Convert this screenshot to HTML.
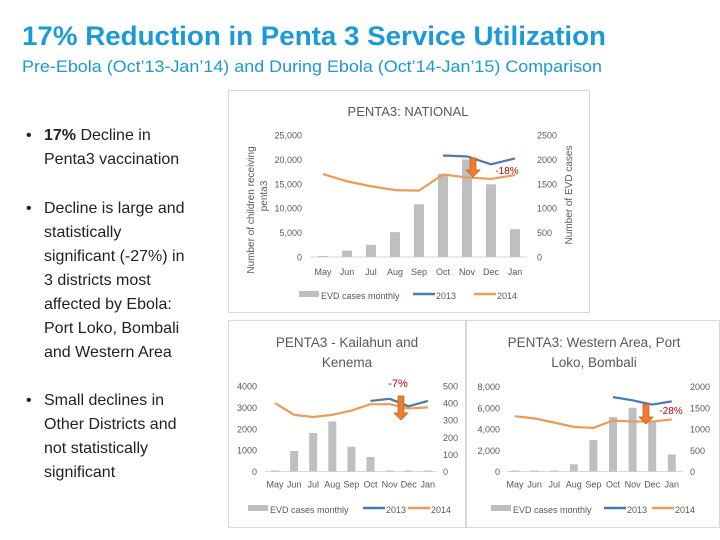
<!DOCTYPE html>
<html><head><meta charset="utf-8"><style>
body{margin:0;background:#fff;}
svg{display:block;font-family:"Liberation Sans",sans-serif;}
</style></head><body>
<svg id="s" width="720" height="540" viewBox="0 0 720 540" xmlns="http://www.w3.org/2000/svg">
<text x="22" y="45" font-size="27" font-weight="bold" fill="#1a9ad6" textLength="584" lengthAdjust="spacingAndGlyphs">17% Reduction in Penta 3 Service Utilization</text>
<text x="22" y="72" font-size="16.5" fill="#1a9ad6" textLength="580" lengthAdjust="spacingAndGlyphs">Pre-Ebola (Oct’13-Jan’14) and During Ebola (Oct’14-Jan’15) Comparison</text>
<g font-size="16" fill="#222">
<text x="26" y="140">•</text><text x="44" y="140"><tspan font-weight="bold">17%</tspan> Decline in</text><text x="44" y="164">Penta3 vaccination</text>
<text x="26" y="213">•</text><text x="44" y="213">Decline is large and</text><text x="44" y="237">statistically</text><text x="44" y="261">significant (-27%) in</text><text x="44" y="285">3 districts most</text><text x="44" y="309">affected by Ebola:</text><text x="44" y="333">Port Loko, Bombali</text><text x="44" y="357">and Western Area</text>
<text x="26" y="405">•</text><text x="44" y="405">Small declines in</text><text x="44" y="429">Other Districts and</text><text x="44" y="453">not statistically</text><text x="44" y="477">significant</text>
</g>
<rect x="228.5" y="90.5" width="361" height="222" fill="#fff" stroke="#d9d9d9"/>
<rect x="228.5" y="320.5" width="237" height="207" fill="#fff" stroke="#d9d9d9"/>
<rect x="466.5" y="320.5" width="253" height="207" fill="#fff" stroke="#d9d9d9"/>
</svg>
<script>
const months = ["May","Jun","Jul","Aug","Sep","Oct","Nov","Dec","Jan"];
const natCases = [0,130,250,510,1080,1700,2000,1490,570];
const nat2014 = [17000,15500,14500,13700,13600,16900,16300,16000,16800];
const nat2013 = [null,null,null,null,null,20800,20600,19000,20200];
const natLeftTicks = ["0","5,000","10,000","15,000","20,000","25,000"];
const natRightTicks = ["0","500","1000","1500","2000","2500"];
const kkCases = [0,120,225,293,145,85,0,0,0];
const kk2014 = [3200,2650,2550,2650,2850,3150,3150,2950,3000];
const kk2013 = [null,null,null,null,null,3300,3400,3050,3300];
const kkLeftTicks = ["0","1000","2000","3000","4000"];
const kkRightTicks = ["0","100","200","300","400","500"];
const waCases = [0,0,0,170,740,1280,1500,1200,400];
const wa2014 = [5200,5000,4600,4200,4100,4800,4700,4700,4900];
const wa2013 = [null,null,null,null,null,7000,6700,6300,6600];
const waLeftTicks = ["0","2,000","4,000","6,000","8,000"];
const waRightTicks = ["0","500","1000","1500","2000"];

const svg = document.getElementById('s');
const NS = "http://www.w3.org/2000/svg";
function mk(tag, attrs, parent){const e=document.createElementNS(NS,tag);for(const k in attrs)e.setAttribute(k,attrs[k]);(parent||svg).appendChild(e);return e;}
function num(s){return parseFloat(s.replace(/,/g,''));}

function chart(c){
  const g = mk('g',{});
  
  
  const lMax = num(c.lt[c.lt.length-1]), rMax = num(c.rt[c.rt.length-1]);
  const yL = v => c.y0 - v/lMax*(c.y0-c.yTop);
  const yR = v => c.y0 - v/rMax*(c.y0-c.yTop);
  const x = i => c.x0 + i*c.dx;
  const gl = mk('line',{x1:c.gx1,x2:c.gx2,y1:c.y0,y2:c.y0,stroke:'#d9d9d9'},g);
  
  
  c.lt.forEach((t,i)=>{
    const yy = c.y0 - i*(c.y0-c.yTop)/(c.lt.length-1);
    const e = mk('text',{x:c.lx,y:yy+3.5,'font-size':c.fs,fill:'#595959','text-anchor':'end'},g);
    e.textContent=t;
    
    
  });
  c.rt.forEach((t,i)=>{
    const yy = c.y0 - i*(c.y0-c.yTop)/(c.rt.length-1);
    const e = mk('text',{x:c.rx,y:yy+3.5,'font-size':c.fs,fill:'#595959'},g);
    e.textContent=t;
    
    
  });
  months.forEach((m,i)=>{
    const e = mk('text',{x:x(i),y:c.y0+c.mOff,'font-size':c.fs,fill:'#595959','text-anchor':'middle'},g);
    e.textContent=m;
    
    
  });
  c.cases.forEach((v,i)=>{
    const h = Math.max(c.y0-yR(v), 0);
    const b = mk('rect',{x:x(i)-c.bw/2,y:c.y0-h-(h===0?1:0),width:c.bw,height:h===0?1:h,fill:'#bfbfbf'},g);
    
    
  });
  const mkLine=(arr,col,nm)=>{
    const pts=[];arr.forEach((v,i)=>{if(v!==null)pts.push(x(i)+','+yL(v));});
    const p = mk('polyline',{points:pts.join(' '),fill:'none',stroke:col,'stroke-width':2.2,'stroke-linejoin':'round'},g);
    
    
  };
  mkLine(c.s2014,'#ed9b55','line-2014');
  mkLine(c.s2013,'#4a78b0','line-2013');
  const ly=c.ly, lx=c.legx;
  const lb = mk('rect',{x:lx,y:ly-5,width:20,height:6,fill:'#bfbfbf'},g);
  
  
  const t1 = mk('text',{x:lx+22,y:ly+3,'font-size':c.lfs,fill:'#595959'},g);t1.textContent='EVD cases monthly';
  
  
  const l2 = mk('line',{x1:lx+c.l2,x2:lx+c.l2+22,y1:ly-2,y2:ly-2,stroke:'#4a78b0','stroke-width':2.5},g);
  
  
  const t2 = mk('text',{x:lx+c.l2+23,y:ly+3,'font-size':c.lfs,fill:'#595959'},g);t2.textContent='2013';
  
  
  const l3 = mk('line',{x1:lx+c.l3,x2:lx+c.l3+22,y1:ly-2,y2:ly-2,stroke:'#ed9b55','stroke-width':2.5},g);
  
  
  const t3 = mk('text',{x:lx+c.l3+23,y:ly+3,'font-size':c.lfs,fill:'#595959'},g);t3.textContent='2014';
  
  
  return g;
}
chart({name:'national-chart',cases:natCases,s2014:nat2014,s2013:nat2013,lt:natLeftTicks,rt:natRightTicks,
  y0:257,yTop:135,x0:323,dx:24,bw:10,lx:302,rx:537,gx1:310,gx2:527,fs:9,mOff:18,ly:296,legx:299,l2:114,l3:175,lfs:9});
chart({name:'kailahun-kenema-chart',cases:kkCases,s2014:kk2014,s2013:kk2013,lt:kkLeftTicks,rt:kkRightTicks,
  y0:471.5,yTop:386,x0:275,dx:19.1,bw:8,lx:257,rx:443,gx1:265,gx2:437,fs:9,mOff:16,ly:510,legx:248,l2:115,l3:160,lfs:9});
chart({name:'western-area-chart',cases:waCases,s2014:wa2014,s2013:wa2013,lt:waLeftTicks,rt:waRightTicks,
  y0:471.5,yTop:386.5,x0:515,dx:19.6,bw:8,lx:500,rx:690,gx1:507,gx2:683,fs:9,mOff:16,ly:510,legx:491,l2:113,l3:161,lfs:9});

function txt(a,s,nm){const e=mk('text',a);e.textContent=s;return e;}
txt({x:408,y:116,'font-size':13,fill:'#595959','text-anchor':'middle'},'PENTA3: NATIONAL','national-chart-title');
txt({x:0,y:0,'font-size':10,fill:'#595959','text-anchor':'middle',transform:'translate(254,210) rotate(-90)'},'Number of children receiving','national-left-axis-title');
txt({x:0,y:0,'font-size':10,fill:'#595959','text-anchor':'middle',transform:'translate(267,196) rotate(-90)'},'penta3','national-left-axis-title-2');
txt({x:0,y:0,'font-size':10,fill:'#595959','text-anchor':'middle',transform:'translate(572,195) rotate(-90)'},'Number of EVD cases','national-right-axis-title');
txt({x:347,y:347,'font-size':13.5,fill:'#595959','text-anchor':'middle'},'PENTA3 - Kailahun and','kailahun-chart-title');
txt({x:347,y:367,'font-size':13.5,fill:'#595959','text-anchor':'middle'},'Kenema','kailahun-chart-title-2');
txt({x:594,y:347,'font-size':13.5,fill:'#595959','text-anchor':'middle'},'PENTA3: Western Area, Port','western-chart-title');
txt({x:594,y:367,'font-size':13.5,fill:'#595959','text-anchor':'middle'},'Loko, Bombali','western-chart-title-2');
txt({x:507,y:174,'font-size':10,fill:'#c00000','text-anchor':'middle'},'-18%','national-decline-label');
txt({x:398,y:387,'font-size':11,fill:'#c00000','text-anchor':'middle'},'-7%','kailahun-decline-label');
txt({x:671,y:414,'font-size':10,fill:'#c00000','text-anchor':'middle'},'-28%','western-decline-label');
function arrow(x,y1,y2,nm){
  const p=mk('path',{d:`M${x-3} ${y1} h6 v${y2-y1-6} h4 l-7 7 l-7 -7 h4 z`,fill:'#ed7d31',stroke:'#c55a11','stroke-width':0.7});
  
}
arrow(473,158,176,'national-decline-arrow');
arrow(401,396,419,'kailahun-decline-arrow');
arrow(646,404,423,'western-decline-arrow');
</script>
</body></html>
